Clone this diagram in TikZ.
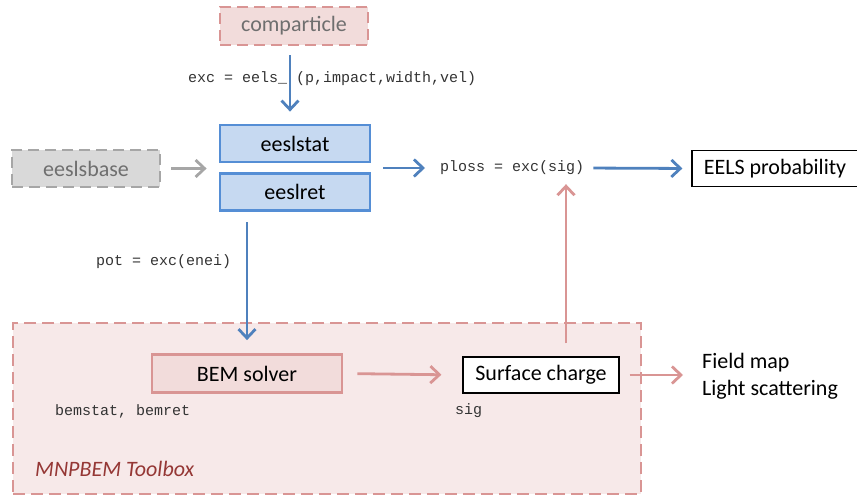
\documentclass[tikz,border=0pt]{standalone}
\usepackage{fontspec}
\setmainfont{Carlito}
\setmonofont{Liberation Mono}
\usetikzlibrary{arrows.meta}
\usetikzlibrary{positioning}

\definecolor{arrowblue}{HTML}{4F81BD}
\definecolor{blueline}{HTML}{558ED5}
\definecolor{bluefill}{HTML}{C6D9F1}
\definecolor{pinkline}{HTML}{D99594}
\definecolor{pinkfill}{HTML}{F2DCDB}
\definecolor{tbxfill}{HTML}{F7E9E9}
\definecolor{greyline}{HTML}{A6A6A6}
\definecolor{greyfill}{HTML}{D9D9D9}
\definecolor{greytext}{HTML}{6F6F6F}
\definecolor{codetext}{HTML}{333333}
\definecolor{tbxred}{HTML}{953735}

\begin{document}
\begin{tikzpicture}[x=1pt,y=-1pt,
            >={Straight Barb[length=9pt,width=17pt]},
            node distance = 9pt,
            box/.style = {draw,line width=2.8pt,inner sep=0pt,
                minimum width=150pt,minimum height=37pt,
                font=\fontsize{22}{26}\selectfont},
            bluebox/.style = {box,draw=blueline,fill=bluefill},
            dashbox/.style = {box,dashed,dash pattern=on 11pt off 6pt},
            plainbox/.style = {draw,line width=1.2pt,inner sep=0pt,
                minimum height=36pt,font=\fontsize{22}{26}\selectfont},
            code/.style = {inner sep=0pt,anchor=west,text=codetext,
                font=\fontsize{15}{18}\ttfamily\selectfont},
            bluearrow/.style = {->,draw=arrowblue,line width=2.8pt},
            pinkarrow/.style = {->,draw=pinkline,line width=2.8pt},
            greyarrow/.style = {->,draw=greyline,line width=2.8pt}]
    \useasboundingbox (0,0) rectangle (857,498);
    % toolbox frame
    \node[draw=pinkline,fill=tbxfill,line width=2.8pt,dashed,
        dash pattern=on 12pt off 6pt,minimum width=628pt,minimum height=171pt]
        (tbx) at (327,408.5) {};
    \node[anchor=west,inner sep=0pt,text=tbxred,
        font=\fontsize{22}{26}\itshape\selectfont] (tbxname) at (35,469) {MNPBEM Toolbox};
    % excitation part
    \node[dashbox,draw=pinkline,fill=pinkfill,text=greytext,minimum width=148pt,
        minimum height=38pt] (cp) at (294,26) {comparticle};
    \node[bluebox] (stat) at (295,143.5) {eeslstat};
    \node[bluebox,below=of stat] (ret) {eeslret};
    \node[dashbox,draw=greyline,fill=greyfill,text=greytext,minimum width=148pt]
        (base) at (86,168.5) {eeslsbase};
    \node[code] (exclbl) at (188,79) {exc = eels\_ (p,impact,width,vel)};
    \node[code] (ploss) at (440,168) {ploss = exc(sig)};
    \node[plainbox,minimum width=166pt] (prob) at (775,168.5) {EELS probability};
    \node[code] (potlbl) at (96,262) {pot = exc(enei)};
    % solver part
    \node[box,draw=pinkline,fill=pinkfill,minimum width=190pt,minimum height=38pt]
        (bem) at (247,373.5) {BEM solver};
    \node[plainbox,fill=white,minimum width=156pt] (sc) at (541,375) {Surface charge};
    \node[code] (bemlbl) at (55,411) {bemstat, bemret};
    \node[code] (siglbl) at (455,411) {sig};
    \node[anchor=west,inner sep=0pt,align=left,
        font=\fontsize{22}{27}\selectfont] (fmap) at (702,376) {Field map\\Light scattering};
    % connectors
    \draw[bluearrow,shorten <=9pt,shorten >=12pt] (cp.south -| 290,0) -- (stat.north -| 290,0);
    \draw[greyarrow,shorten <=10pt,shorten >=12pt] (base.east) -- (base.east -| stat.west);
    \draw[bluearrow,shorten <=12pt,shorten >=15pt] (ploss.west -| stat.east) -- (ploss.west);
    \draw[bluearrow,shorten <=9pt,shorten >=9pt] (ploss.east) -- (prob.west);
    \draw[bluearrow,shorten <=10pt,shorten >=13pt] (ret.south -| bem.north) -- (bem.north);
    \draw[pinkarrow,shorten <=14pt,shorten >=21pt] (bem.east) -- (sc.west);
    \draw[pinkarrow,shorten <=13pt,shorten >=9pt] ([xshift=25pt]sc.north) -- ([xshift=25pt]sc.north |- ploss.south);
    \draw[pinkarrow,shorten <=10pt,shorten >=19pt] (sc.east) -- (sc.east -| fmap.west);
\end{tikzpicture}
\end{document}
